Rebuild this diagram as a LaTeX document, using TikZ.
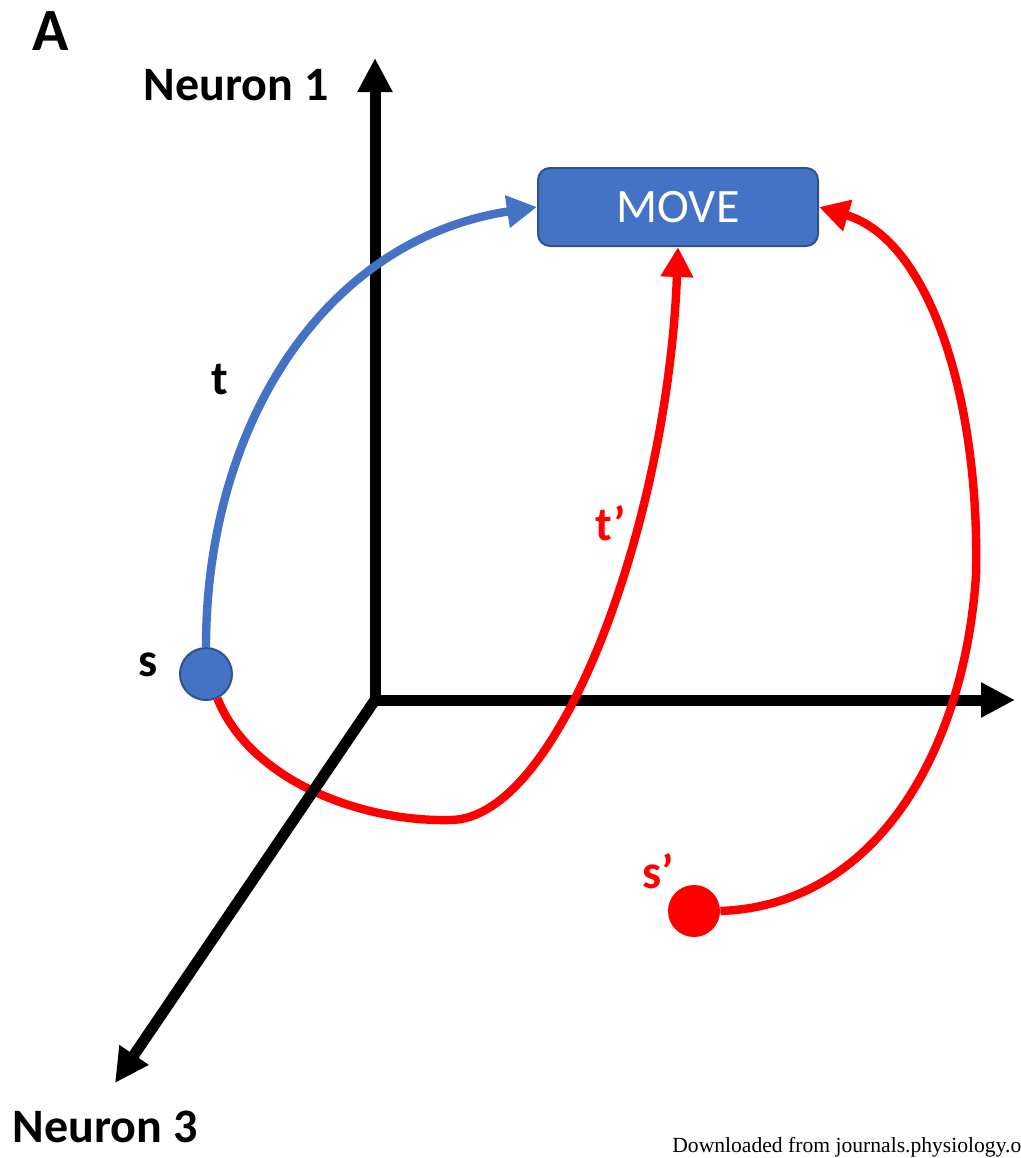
\documentclass[tikz,border=0pt]{standalone}
\usepackage{fontspec}
\setmainfont{Carlito}
\newfontfamily\timesfont{Liberation Serif}
\usepackage{tikz}
\usetikzlibrary{arrows.meta, positioning}
\usepackage{xcolor}
\definecolor{moveblue}{RGB}{68,114,196}
\definecolor{moveedge}{RGB}{47,82,143}
\definecolor{trajred}{RGB}{255,0,0}

\begin{document}
\begin{tikzpicture}[x=0.5pt, y=-0.5pt,
  axisline/.style={line width=5.5pt, line cap=rect, -{Triangle[length=17pt, width=16.5pt]}},
  traj/.style={line width=4.2pt, -{Triangle[length=15pt, width=15.5pt]}},
  lbl/.style={font=\fontsize{24}{28}\selectfont\bfseries, anchor=base}]
  \useasboundingbox (0,0) rectangle (1021,1158);
  % Axes
  \coordinate (origin) at (375,700);
  \coordinate (n1tip) at (375,58);
  \coordinate (n2tip) at (1015,700);
  \coordinate (n3tip) at (115,1083);
  \draw[axisline] (origin) -- (n1tip);
  \draw[axisline] (origin) -- (n2tip);
  \node[lbl] (n1) at (236,100) {Neuron 1};
  \node[lbl] (n3) at (105,1142) {Neuron 3};
  \node[lbl, font=\fontsize{30}{34}\selectfont\bfseries] (panel) at (51,50) {A};
  % MOVE box
  \node[rounded corners=6pt, fill=moveblue, draw=moveedge, line width=1pt,
    minimum width=140pt, minimum height=39pt, text=white,
    font=\fontsize{24}{28}\selectfont] (move) at (678,207) {MOVE};
  % States
  \node[circle, fill=moveblue, draw=moveedge, line width=1pt, minimum size=26pt, inner sep=0pt] (s) at (206,674) {};
  \node[circle, fill=trajred, minimum size=26pt, inner sep=0pt] (sp) at (694,911) {};
  \coordinate (bend) at (450,820);
  \coordinate (turn) at (976,575);
  % Red trajectories
  \draw[traj, trajred] (s.-65) .. controls (250,780) and (360,822) .. (bend)
    .. controls (560,820) and (668,520) .. (move.south);
  \draw[traj, trajred] (sp.east) .. controls (880,905) and (965,745) .. (turn)
    .. controls (980,400) and (930,240) .. (move.east);
  \draw[axisline] (origin) -- (n3tip);
  % Blue trajectory
  \draw[traj, moveblue] (s.north) .. controls (206,428) and (322,240) .. (move.west);
  % Labels
  \node[lbl] (tlbl) at (220,394) {t};
  \node[lbl] (slbl) at (148,676) {s};
  \node[lbl, text=trajred] (tplbl) at (611,540) {t’};
  \node[lbl, text=trajred] (splbl) at (658,888) {s’};
  \node[anchor=base west, inner sep=0pt, font=\timesfont\fontsize{10.8}{13}\selectfont] (dl) at (672,1152) {Downloaded from journals.physiology.org};
\end{tikzpicture}
\end{document}
